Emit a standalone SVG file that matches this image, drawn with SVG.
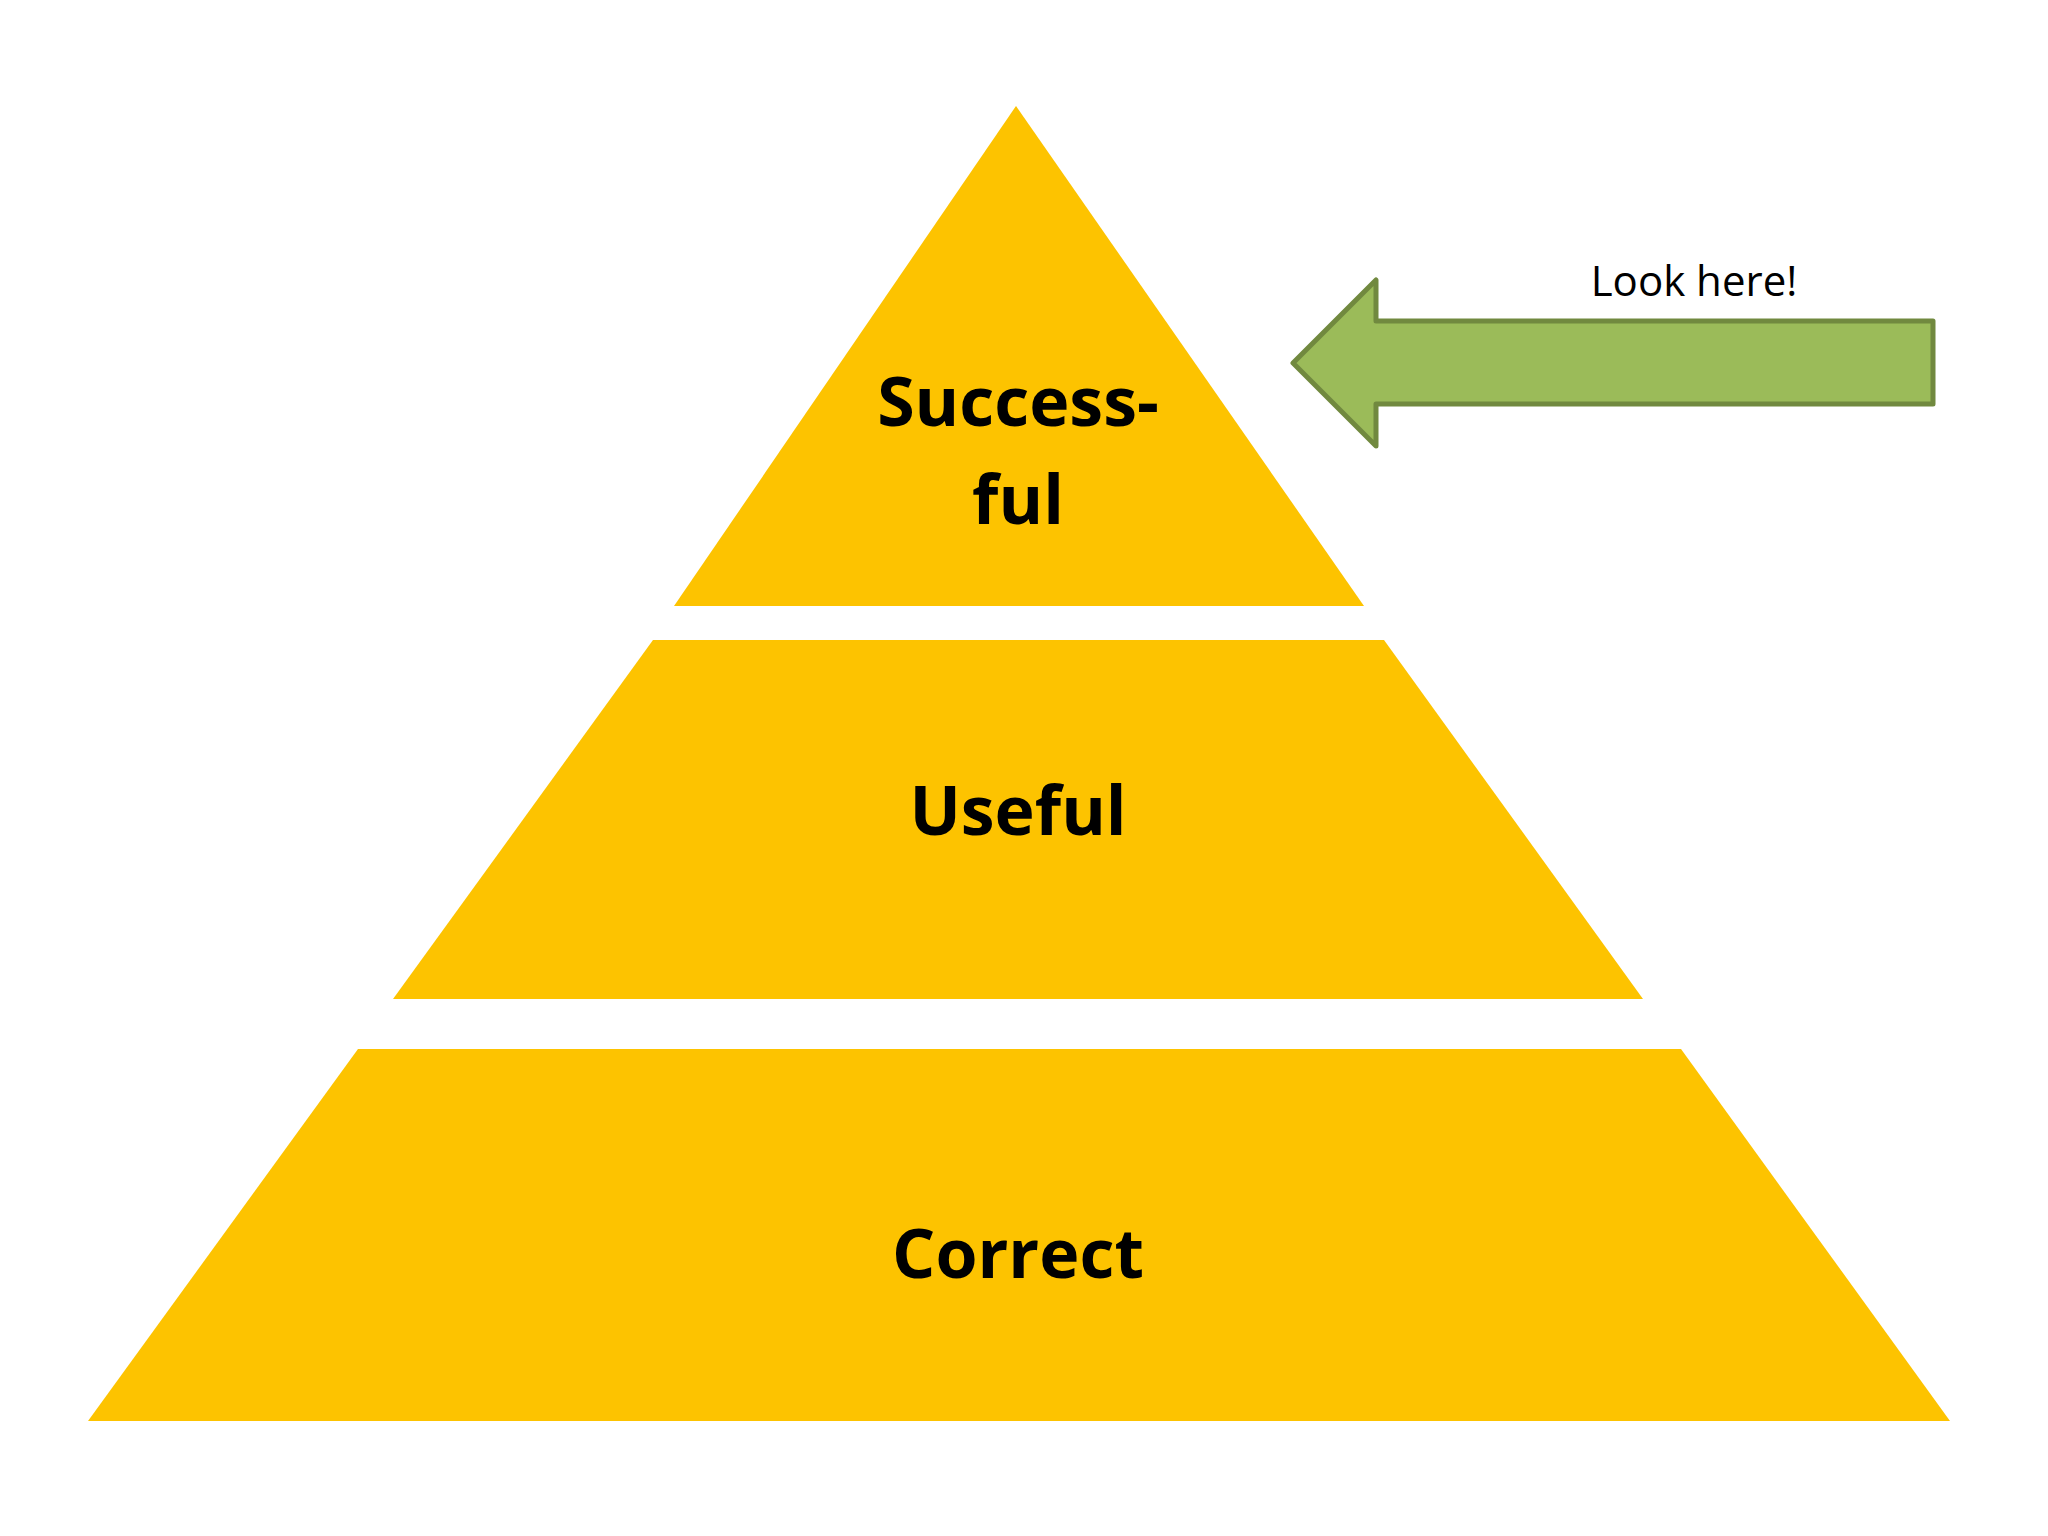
<svg xmlns="http://www.w3.org/2000/svg" width="2048" height="1536" viewBox="0 0 2048 1536">
<style>
.tier{fill:#FDC300}
.lbl{font-family:"Open Sans","Liberation Sans",sans-serif;font-weight:bold;font-size:68px;fill:#000;text-anchor:middle}
</style>
<rect width="2048" height="1536" fill="#fff"/>
<g id="top"><polygon class="tier" points="1016,106 1364,606 674,606"/>
<text class="lbl" x="1018" y="426">Success-</text><text class="lbl" x="1018" y="524">ful</text></g>
<g id="middle"><polygon class="tier" points="653,640 1384,640 1643,999 393,999"/>
<text class="lbl" x="1018" y="835">Useful</text></g>
<g id="bottom"><polygon class="tier" points="358,1049 1681,1049 1950,1421 88,1421"/>
<text class="lbl" x="1018" y="1278">Correct</text></g>
<g id="arrow"><polygon points="1293,363 1376,280 1376,321 1933,321 1933,404 1376,404 1376,446" fill="#9BBB59" stroke="#71893F" stroke-width="5" stroke-linejoin="round"/>
<text x="1694" y="296" font-family="Open Sans,Liberation Sans,sans-serif" font-size="42" text-anchor="middle">Look here!</text></g>
<g id="connectors"/>
</svg>
